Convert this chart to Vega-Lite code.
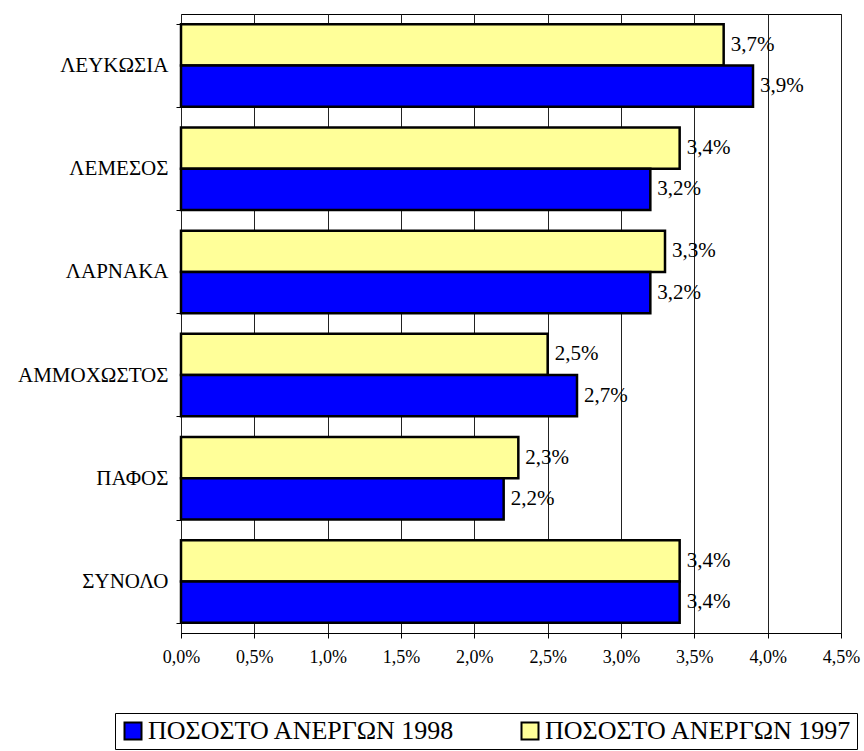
{
  "$schema": "https://vega.github.io/schema/vega-lite/v6.json",
  "autosize": {"type": "none"},
  "padding": {"left": 181, "top": 14, "right": 23, "bottom": 118},
  "width": 660,
  "height": 619,
  "background": "white",
  "config": {
    "view": {"stroke": "#000000", "strokeWidth": 1},
    "font": "Liberation Serif"
  },
  "data": {
    "values": [
      {"region": "ΛΕΥΚΩΣΙΑ", "series": "ΠΟΣΟΣΤΟ ΑΝΕΡΓΩΝ 1997", "value": 0.037},
      {"region": "ΛΕΥΚΩΣΙΑ", "series": "ΠΟΣΟΣΤΟ ΑΝΕΡΓΩΝ 1998", "value": 0.039},
      {"region": "ΛΕΜΕΣΟΣ", "series": "ΠΟΣΟΣΤΟ ΑΝΕΡΓΩΝ 1997", "value": 0.034},
      {"region": "ΛΕΜΕΣΟΣ", "series": "ΠΟΣΟΣΤΟ ΑΝΕΡΓΩΝ 1998", "value": 0.032},
      {"region": "ΛΑΡΝΑΚΑ", "series": "ΠΟΣΟΣΤΟ ΑΝΕΡΓΩΝ 1997", "value": 0.033},
      {"region": "ΛΑΡΝΑΚΑ", "series": "ΠΟΣΟΣΤΟ ΑΝΕΡΓΩΝ 1998", "value": 0.032},
      {"region": "ΑΜΜΟΧΩΣΤΟΣ", "series": "ΠΟΣΟΣΤΟ ΑΝΕΡΓΩΝ 1997", "value": 0.025},
      {"region": "ΑΜΜΟΧΩΣΤΟΣ", "series": "ΠΟΣΟΣΤΟ ΑΝΕΡΓΩΝ 1998", "value": 0.027},
      {"region": "ΠΑΦΟΣ", "series": "ΠΟΣΟΣΤΟ ΑΝΕΡΓΩΝ 1997", "value": 0.023},
      {"region": "ΠΑΦΟΣ", "series": "ΠΟΣΟΣΤΟ ΑΝΕΡΓΩΝ 1998", "value": 0.022},
      {"region": "ΣΥΝΟΛΟ", "series": "ΠΟΣΟΣΤΟ ΑΝΕΡΓΩΝ 1997", "value": 0.034},
      {"region": "ΣΥΝΟΛΟ", "series": "ΠΟΣΟΣΤΟ ΑΝΕΡΓΩΝ 1998", "value": 0.034}
    ]
  },
  "transform": [
    {"calculate": "replace(format(datum.value, '.1%'), '.', ',')", "as": "label"}
  ],
  "encoding": {
    "y": {
      "field": "region", "type": "nominal",
      "sort": ["ΛΕΥΚΩΣΙΑ", "ΛΕΜΕΣΟΣ", "ΛΑΡΝΑΚΑ", "ΑΜΜΟΧΩΣΤΟΣ", "ΠΑΦΟΣ", "ΣΥΝΟΛΟ"],
      "scale": {"paddingInner": 0.2, "paddingOuter": 0.1},
      "axis": {
        "title": null, "domain": false, "tickBand": "extent", "tickSize": 5, "tickColor": "#000000",
        "labelFont": "Liberation Serif", "labelFontSize": 21, "labelColor": "#000000", "labelPadding": 8, "grid": false, "labelLimit": 300
      }
    },
    "yOffset": {
      "field": "series", "type": "nominal",
      "sort": ["ΠΟΣΟΣΤΟ ΑΝΕΡΓΩΝ 1997", "ΠΟΣΟΣΤΟ ΑΝΕΡΓΩΝ 1998"],
      "scale": {"paddingInner": 0, "paddingOuter": 0}
    },
    "x": {
      "field": "value", "type": "quantitative",
      "scale": {"domain": [0, 0.045], "nice": false, "zero": true},
      "axis": {
        "title": null, "values": [0, 0.005, 0.01, 0.015, 0.02, 0.025, 0.03, 0.035, 0.04, 0.045],
        "labelExpr": "replace(format(datum.value, '.1%'), '.', ',')",
        "grid": true, "gridColor": "#222222", "gridOpacity": 1, "gridWidth": 1,
        "domain": true, "domainColor": "#000000", "tickColor": "#000000", "tickSize": 5,
        "labelFont": "Liberation Serif", "labelFontSize": 18, "labelColor": "#000000", "labelPadding": 10,
        "labelFlush": false, "labelOverlap": false
      }
    }
  },
  "layer": [
    {
      "mark": {"type": "bar", "stroke": "#000000", "strokeWidth": 2.5},
      "encoding": {
        "fill": {
          "field": "series", "type": "nominal",
          "scale": {"domain": ["ΠΟΣΟΣΤΟ ΑΝΕΡΓΩΝ 1998", "ΠΟΣΟΣΤΟ ΑΝΕΡΓΩΝ 1997"], "range": ["#0000FF", "#FFFF99"]},
          "legend": {
            "title": null, "orient": "none", "legendX": -66, "legendY": 699, "direction": "horizontal", "columns": 2,
            "strokeColor": "#000000", "padding": 5, "columnPadding": 62,
            "symbolType": "square", "symbolSize": 289, "symbolStrokeColor": "#000000", "symbolStrokeWidth": 2, "symbolOpacity": 1,
            "labelFont": "Liberation Serif", "labelFontSize": 26, "labelColor": "#000000", "labelOffset": 2, "labelLimit": 500
          }
        }
      }
    },
    {
      "mark": {"type": "text", "align": "left", "baseline": "middle", "dx": 7, "font": "Liberation Serif", "fontSize": 21, "color": "#000000"},
      "encoding": {
        "text": {"field": "label", "type": "nominal"}
      }
    }
  ]
}
